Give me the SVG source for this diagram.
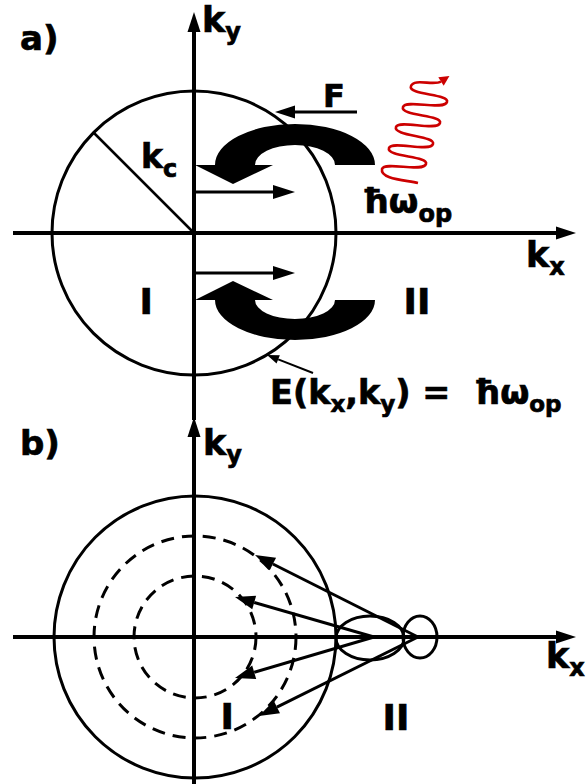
<svg xmlns="http://www.w3.org/2000/svg" width="586" height="784" viewBox="0 0 586 784">
<style>
.ax{stroke:#000;stroke-width:4;fill:none}
.thin{stroke:#000;stroke-width:3;fill:none}
.circ{stroke:#000;stroke-width:3;fill:none}
.dash{stroke-dasharray:13 8}
.lbl{font-family:"DejaVu Sans","Liberation Sans",sans-serif;font-weight:bold;fill:#000;stroke:#000;stroke-width:0.7}
.band{fill:#000;stroke:none}
.wave{stroke:#cc0000;stroke-width:2.6;fill:none}
</style>
<defs>
<marker id="axh" viewBox="0 -7 20 14" markerWidth="20" markerHeight="14" refX="0" refY="0" orient="auto" markerUnits="userSpaceOnUse" overflow="visible"><path d="M0,-6.5 L20,0 L0,6.5 Z" fill="#000"/></marker>
<marker id="arh" viewBox="0 -7 22 14" markerWidth="22" markerHeight="14" refX="0" refY="0" orient="auto" markerUnits="userSpaceOnUse" overflow="visible"><path d="M0,-7 L22,0 L0,7 Z" fill="#000"/></marker>
<marker id="bh" viewBox="0 -7 20 14" markerWidth="20" markerHeight="14" refX="0" refY="0" orient="auto" markerUnits="userSpaceOnUse" overflow="visible"><path d="M0,-7 L20,0 L0,7 Z" fill="#000"/></marker>
<marker id="smh" viewBox="0 -5 12 10" markerWidth="12" markerHeight="10" refX="0" refY="0" orient="auto" markerUnits="userSpaceOnUse" overflow="visible"><path d="M0,-4.5 L12,0 L0,4.5 Z" fill="#000"/></marker>
<marker id="redh" viewBox="0 -5 10 10" markerWidth="10" markerHeight="10" refX="0" refY="0" orient="auto" markerUnits="userSpaceOnUse" overflow="visible"><path d="M0,-5 L10,0 L0,5 Z" fill="#cc0000"/></marker>
</defs>

<g id="panel-a">
  <g id="a-circle"><circle class="circ" cx="194" cy="233" r="142"/></g>
  <g id="a-radius"><line x1="194" y1="233" x2="94" y2="133" stroke="#000" stroke-width="2.5"/></g>
  <g id="a-band-top"><path class="band" d="M375,165 A80,41 0 0 0 215,165 L195,165 L233,184 L273,165 L255,165 A40,20 0 0 1 335,165 Z"/></g>
  <g id="a-band-bottom"><path class="band" d="M375,300 A80,40 0 0 1 215,300 L195,300 L233,281 L273,300 L255,300 A40,19 0 0 0 335,300 Z"/></g>
  <g id="a-photon"><path class="wave" marker-end="url(#redh)" d="M418,183 C405,180 380,179 382,169 C385,161 423,173 426,164 C429,156 386,157 389,148 C392,140 430,153 433,144 C436,136 393,136 396,127 C399,119 437,132 440,123 C443,115 400,116 403,107 C406,99 444,111 447,102 C450,94 407,95 411,86 C414,78 434,86 441,81.5"/></g>
  <g id="a-labels">
    <text class="lbl" x="20" y="50" font-size="34">a)</text>
    <text class="lbl" x="202" y="32" font-size="35">k<tspan font-size="24" dy="8">y</tspan></text>
    <text class="lbl" x="526" y="267" font-size="35">k<tspan font-size="24" dy="8">x</tspan></text>
    <text class="lbl" x="141" y="168" font-size="33">k<tspan font-size="24" dy="9">c</tspan></text>
    <text class="lbl" x="323" y="107" font-size="32">F</text>
    <text class="lbl" x="362" y="213" font-size="34">ħω<tspan font-size="24" dy="9">op</tspan></text>
    <text class="lbl" x="139.5" y="314" font-size="36">I</text>
    <text class="lbl" x="403.5" y="314" font-size="36">II</text>
    <text class="lbl" x="270" y="404" font-size="33.5" xml:space="preserve">E(k<tspan font-size="23" dy="8">x</tspan><tspan dy="-8">,k</tspan><tspan font-size="23" dy="8">y</tspan><tspan dy="-8">) =  ħω</tspan><tspan font-size="23" dy="8">op</tspan></text>
  </g>
</g>

<g id="panel-b">
  <g id="b-circle"><circle class="circ" cx="195" cy="637" r="141"/></g>
  <g id="b-dashed-outer"><circle class="circ dash" cx="195" cy="637" r="101"/></g>
  <g id="b-dashed-inner"><circle class="circ dash" cx="195" cy="637" r="61"/></g>
  <g id="b-ellipse"><ellipse class="circ" cx="370" cy="638" rx="34" ry="22"/></g>
  <g id="b-small"><ellipse class="circ" cx="420" cy="637" rx="17" ry="21"/></g>
  <g id="b-labels">
    <text class="lbl" x="20" y="455" font-size="34">b)</text>
    <text class="lbl" x="203" y="455" font-size="35">k<tspan font-size="24" dy="8">y</tspan></text>
    <text class="lbl" x="546" y="668" font-size="35">k<tspan font-size="24" dy="8">x</tspan></text>
    <text class="lbl" x="220.5" y="729" font-size="36">I</text>
    <text class="lbl" x="382.5" y="730" font-size="36">II</text>
  </g>
</g>

<g id="connectors">
  <line class="ax" x1="194" y1="420" x2="194" y2="32" marker-end="url(#axh)"/>
  <line class="ax" x1="194" y1="784" x2="194" y2="437" marker-end="url(#axh)"/>
  <line class="ax" x1="13" y1="233" x2="556" y2="233" marker-end="url(#axh)"/>
  <line class="ax" x1="13" y1="637" x2="556" y2="637" marker-end="url(#axh)"/>
  <line class="thin" x1="357" y1="112" x2="295" y2="112" marker-end="url(#axh)"/>
  <line class="thin" x1="194" y1="192" x2="273" y2="192" marker-end="url(#arh)"/>
  <line class="thin" x1="194" y1="273" x2="273" y2="273" marker-end="url(#arh)"/>
  <line x1="313" y1="373" x2="278.2" y2="359.4" stroke="#000" stroke-width="2" marker-end="url(#smh)"/>
  <line class="thin" x1="374" y1="637" x2="254.2" y2="602.5" marker-end="url(#bh)"/>
  <line class="thin" x1="374" y1="637" x2="254.2" y2="672.3" marker-end="url(#bh)"/>
  <line class="thin" x1="418" y1="637" x2="272.9" y2="564" marker-end="url(#bh)"/>
  <line class="thin" x1="418" y1="637" x2="276.9" y2="707.1" marker-end="url(#bh)"/>
</g>
</svg>
